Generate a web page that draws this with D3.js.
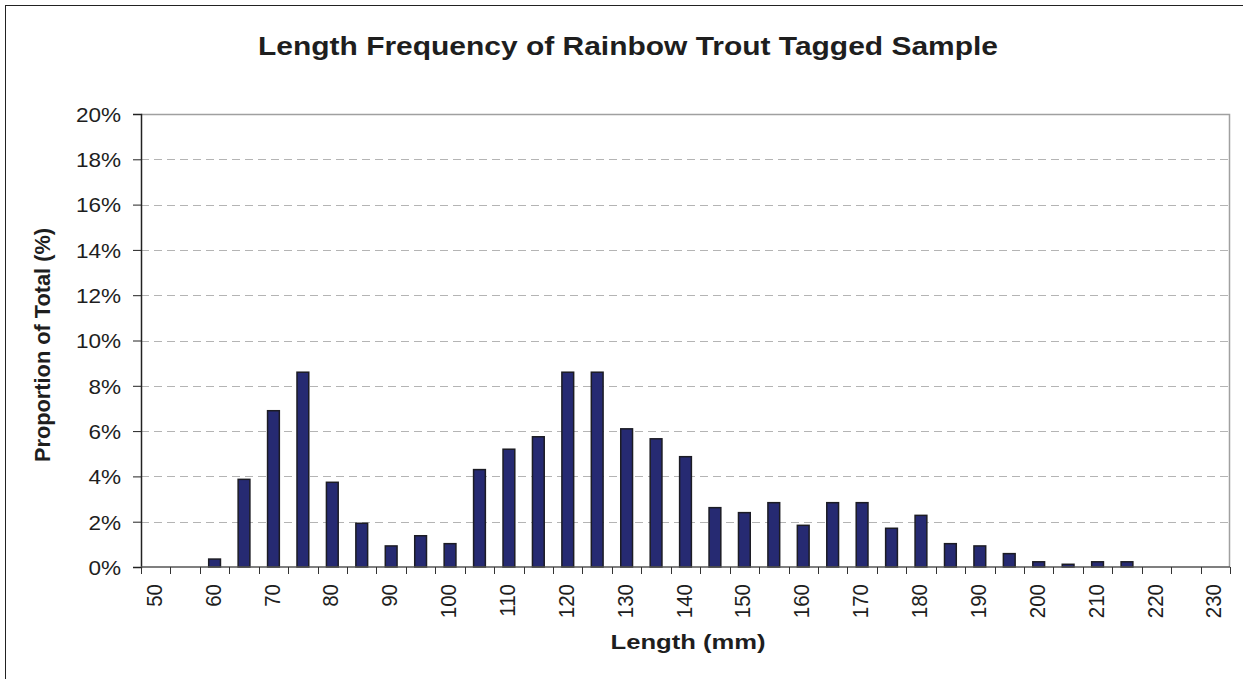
<!DOCTYPE html>
<html>
<head>
<meta charset="utf-8">
<script src="https://cdn.jsdelivr.net/npm/d3@7"></script>
<style>
  body { margin: 0; background: #fff; }
  svg text { font-family: "Liberation Sans", Arial, sans-serif; fill: #1e1e1e; }
</style>
</head>
<body>
<div id="chart"></div>
<script>
// length classes (mm), proportion of total (%)
const lengths = d3.range(50, 231, 5);
const proportions = [
  0, 0, 0.35, 3.87, 6.9, 8.6, 3.74, 1.93, 0.93, 1.38,
  1.03, 4.3, 5.2, 5.75, 8.6, 8.6, 6.1, 5.66, 4.87, 2.62,
  2.4, 2.84, 1.84, 2.84, 2.84, 1.71, 2.28, 1.03, 0.93, 0.59,
  0.23, 0.12, 0.23, 0.23, 0, 0, 0
];
const yTicks = [0, 2, 4, 6, 8, 10, 12, 14, 16, 18, 20];
const xLabels = d3.range(50, 231, 10);

const width = 1243;
const height = 679;
const margin = { top: 114, right: 13, bottom: 112, left: 141 };
const innerW = width - margin.left - margin.right;
const innerH = height - margin.top - margin.bottom;
const stretch = 1.1; // the source picture is a bit wider than tall
const tickFont = 20.5;

const data = lengths.map((len, i) => ({ len, value: proportions[i] }));

const svg = d3
  .select("#chart")
  .append("svg")
  .attr("width", width)
  .attr("height", height);

// outer chart frame
svg
  .append("rect")
  .attr("x", 5.5)
  .attr("y", 5.5)
  .attr("width", width + 10)
  .attr("height", height + 10)
  .attr("fill", "none")
  .attr("stroke", "#222")
  .attr("stroke-width", 1);

svg
  .append("text")
  .attr("x", 628)
  .attr("y", 55)
  .attr("text-anchor", "middle")
  .attr("font-size", 25)
  .attr("font-weight", "bold")
  .attr("textLength", 740)
  .attr("lengthAdjust", "spacingAndGlyphs")
  .text("Length Frequency of Rainbow Trout Tagged Sample");

const g = svg
  .append("g")
  .attr("transform", `translate(${margin.left},${margin.top})`);

const x = d3.scaleBand().domain(lengths).range([0, innerW]).padding(0);
const y = d3.scaleLinear().domain([0, 20]).range([innerH, 0]);

// gridlines
g.append("g")
  .selectAll("line")
  .data(yTicks.filter((d) => d > 0 && d < 20))
  .join("line")
  .attr("x1", 0)
  .attr("x2", innerW)
  .attr("y1", (d) => Math.round(y(d)) + 0.5)
  .attr("y2", (d) => Math.round(y(d)) + 0.5)
  .attr("stroke", "#b4b4b4")
  .attr("stroke-width", 1)
  .attr("stroke-dasharray", "8,5");

// plot area border (top + right)
g.append("path")
  .attr("d", `M0,0.5H${innerW - 0.5}V${innerH}`)
  .attr("fill", "none")
  .attr("stroke", "#a0a0a0")
  .attr("stroke-width", 1.5);

// bars
const barW = x.bandwidth() / 2.5;
g.append("g")
  .selectAll("rect")
  .data(data.filter((d) => d.value > 0))
  .join("rect")
  .attr("x", (d) => x(d.len) + (x.bandwidth() - barW) / 2)
  .attr("y", (d) => y(d.value))
  .attr("width", barW)
  .attr("height", (d) => innerH - y(d.value))
  .attr("fill", "#262a72")
  .attr("stroke", "#1c1c24")
  .attr("stroke-width", 1.5);

// y axis
const yAxis = g
  .append("g")
  .call(
    d3
      .axisLeft(y)
      .tickValues(yTicks)
      .tickSize(8)
      .tickFormat((d) => d + "%")
  );
yAxis.select(".domain").attr("stroke", "#222").attr("stroke-width", 1.5);
yAxis.selectAll(".tick line").attr("stroke", "#222");
yAxis
  .selectAll("text")
  .attr("font-size", tickFont)
  .attr("fill", "#1e1e1e")
  .attr("x", -20 / stretch)
  .attr("dy", "0.36em")
  .attr("transform", `scale(${stretch},1)`);

// x axis: ticks between categories
const xAxisG = g.append("g").attr("transform", `translate(0,${innerH})`);
xAxisG
  .append("line")
  .attr("x1", 0)
  .attr("x2", innerW)
  .attr("stroke", "#555")
  .attr("stroke-width", 1.5);
xAxisG
  .selectAll("line.tick")
  .data(lengths.concat([null]))
  .join("line")
  .attr("class", "tick")
  .attr("x1", (d, i) => Math.round(i * x.step()) + 0.5)
  .attr("x2", (d, i) => Math.round(i * x.step()) + 0.5)
  .attr("y1", 0)
  .attr("y2", 7)
  .attr("stroke", "#333");
xAxisG
  .selectAll("text")
  .data(xLabels)
  .join("text")
  .attr(
    "transform",
    (d) =>
      `translate(${x(d) + x.bandwidth() / 2 - 2},17) scale(${stretch},1) rotate(-90)`
  )
  .attr("text-anchor", "end")
  .attr("dy", "0.36em")
  .attr("font-size", tickFont)
  .text((d) => d);

// axis titles
svg
  .append("text")
  .attr("transform", `translate(50,345) scale(${stretch},1) rotate(-90)`)
  .attr("text-anchor", "middle")
  .attr("font-size", 20)
  .attr("font-weight", "bold")
  .attr("textLength", 234)
  .attr("lengthAdjust", "spacingAndGlyphs")
  .text("Proportion of Total (%)");

svg
  .append("text")
  .attr("x", 688)
  .attr("y", 649)
  .attr("text-anchor", "middle")
  .attr("font-size", 20)
  .attr("font-weight", "bold")
  .attr("textLength", 155)
  .attr("lengthAdjust", "spacingAndGlyphs")
  .text("Length (mm)");
</script>
</body>
</html>
